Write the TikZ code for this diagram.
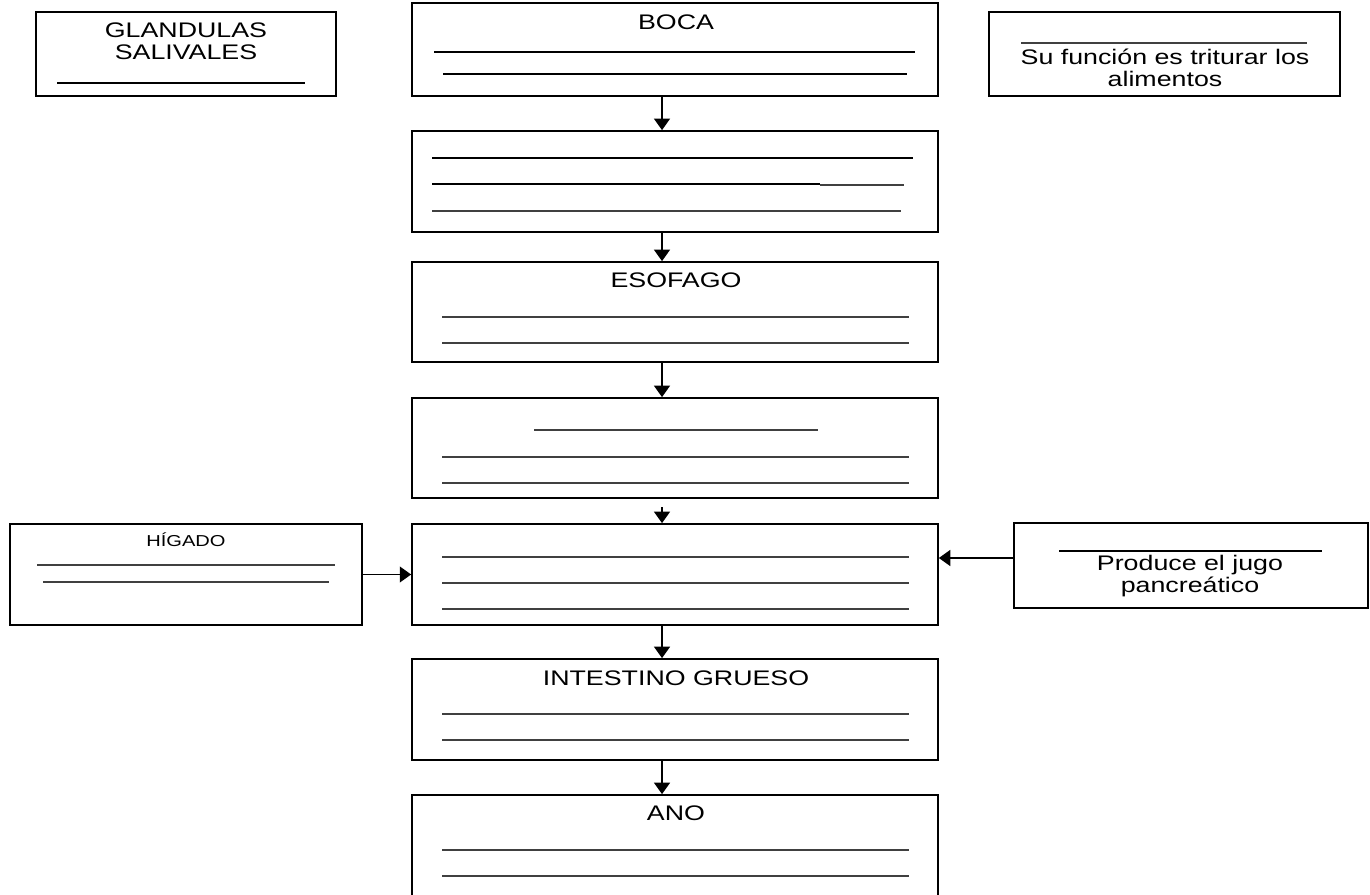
\documentclass[tikz,border=0pt]{standalone}
\usepackage{fontspec}
\setmainfont[FakeStretch=1.27]{Liberation Sans}
\usetikzlibrary{arrows.meta}
\usetikzlibrary{positioning}

\tikzset{
  caja/.style={draw, line width=1pt, inner sep=0pt},
  renglon/.style={line width=0.9pt},
  renglonfino/.style={line width=0.6pt, black!75},
  flecha/.style={line width=1pt, -{Triangle[width=9pt,length=6.5pt]}},
  titulo/.style={font=\fontsize{12}{12.5}\selectfont, align=center, inner sep=0pt},
}

\begin{document}
\begin{tikzpicture}[x=0.02cm, y=-0.02cm]
      \useasboundingbox (0,0) rectangle (1370,895);

      % columna central
      \node[caja, minimum width=10.52cm, minimum height=1.86cm] (boca) at (675,49.5) {};
      \node[caja, minimum width=10.52cm, minimum height=2.02cm] (faringe) at (675,181.5) {};
      \node[caja, minimum width=10.52cm, minimum height=2cm] (esofago) at (675,312) {};
      \node[caja, minimum width=10.52cm, minimum height=2cm] (estomago) at (675,448) {};
      \node[caja, minimum width=10.52cm, minimum height=2.02cm] (delgado) at (675,574.5) {};
      \node[caja, minimum width=10.52cm, minimum height=2.02cm] (grueso) at (675,709.5) {};
      \node[caja, minimum width=10.52cm, minimum height=2.1cm] (ano) at (675,847.5) {};

      % cajas laterales
      \node[caja, minimum width=6cm, minimum height=1.68cm] (glandulas) at (186,54) {};
      \node[caja, minimum width=7.02cm, minimum height=1.68cm] (funcion) at (1164.5,54) {};
      \node[caja, minimum width=7.04cm, minimum height=2.02cm] (higado) at (186,574.5) {};
      \node[caja, minimum width=7.08cm, minimum height=1.7cm] (pancreas) at (1191,565.5) {};

      % textos
      \node[titulo] (tboca) at (676,22) {BOCA};
      \node[titulo] (tesofago) at (676,280) {ESOFAGO};
      \node[titulo] (tgrueso) at (676,678) {INTESTINO GRUESO};
      \node[titulo] (tano) at (676,813) {ANO};
      \node[titulo] (tglandulas) at (186,41) {GLANDULAS\\SALIVALES};
      \node[titulo] (tfuncion) at (1165,68) {Su función es triturar los\\alimentos};
      \node[titulo, font=\fontsize{9}{10}\selectfont] (thigado) at (186,540) {HÍGADO};
      \node[titulo] (tpancreas) at (1190,576) {Produce el jugo\\pancreático};

      % renglones para completar
      \draw[renglon] (57,83) -- (305,83);
      \draw[renglonfino] (1021,43) -- (1307,43);
      \draw[renglon] (1059,551) -- (1322,551);
      \draw[renglon] (434,52) -- (915,52);
      \draw[renglon] (443,74) -- (907,74);
      \draw[renglon] (432,158) -- (913,158);
      \draw[renglon] (432,184) -- (820,184);
      \draw[renglonfino] (820,185) -- (904,185);
      \draw[renglonfino] (432,211) -- (901,211);
      \draw[renglonfino] (534,430) -- (818,430);
      \draw[renglonfino] (37,565) -- (335,565);
      \draw[renglonfino] (43,582) -- (329,582);
      \foreach \y in {317,343,457,483,557,583,609,714,740,850,876}
        \draw[renglonfino] (442,\y) -- (909,\y);

      % flechas
      \coordinate (eje) at (662,0);
      \coordinate (inicio) at (662,507);
      \coordinate (p1) at ([yshift=0.15cm]pancreas.west);
      \draw[flecha] (boca.south -| eje) -- (faringe.north -| eje);
      \draw[flecha] (faringe.south -| eje) -- (esofago.north -| eje);
      \draw[flecha] (esofago.south -| eje) -- (estomago.north -| eje);
      \draw[flecha] (inicio) -- (delgado.north -| inicio);
      \draw[flecha] (delgado.south -| eje) -- (grueso.north -| eje);
      \draw[flecha] (grueso.south -| eje) -- (ano.north -| eje);
      \draw[flecha] (higado.east) -- (delgado.west);
      \draw[flecha] (p1) -- (p1 -| delgado.east);
    \end{tikzpicture}
\end{document}
